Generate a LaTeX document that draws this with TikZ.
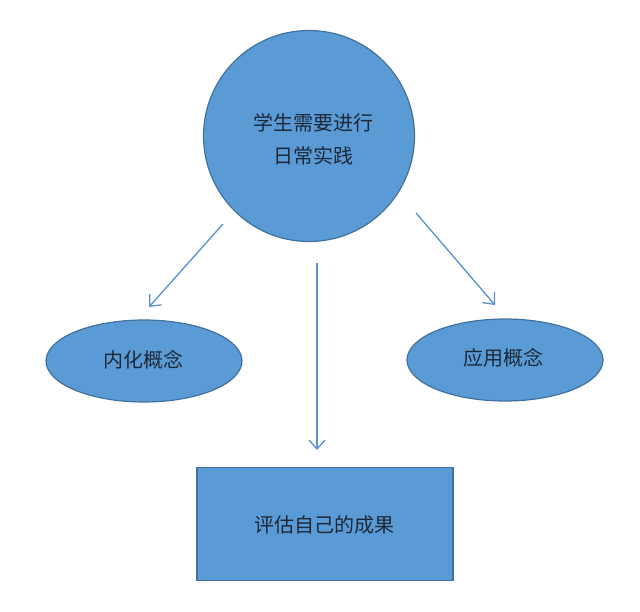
\documentclass[tikz,border=0pt]{standalone}
\usepackage{fontspec}
\setmainfont{Noto Sans CJK SC}
\usetikzlibrary{shapes.geometric,arrows.meta}
\definecolor{nodefill}{HTML}{5B9BD5}
\definecolor{nodeborder}{HTML}{41719C}
\definecolor{arrowcol}{HTML}{5A8FD0}
\definecolor{txt}{HTML}{1C2838}
\tikzset{
  shapebase/.style={fill=nodefill,draw=nodeborder,line width=1.2pt,inner sep=0pt},
  circnode/.style={shapebase,circle,minimum size=211pt},
  ellnode/.style={shapebase,ellipse,minimum width=196pt,minimum height=82pt},
  boxnode/.style={shapebase,rectangle,minimum width=256pt,minimum height=113pt},
  lbl/.style={text=txt,font=\fontsize{20}{33}\selectfont,align=center,inner sep=0pt},
  conn/.style={draw=arrowcol,line width=1.3pt,-{Straight Barb[length=9pt,width=16pt,line width=1.3pt]}}
}
\begin{document}
\begin{tikzpicture}[x=1pt,y=-1pt]
\useasboundingbox (0,0) rectangle (640,611);
\node[circnode] (top) at (309,136) {};
\node[lbl] (toptext) at (313,139) {学生需要进行\\日常实践};
\node[ellnode] (left) at (144,361) {};
\node[lbl] (lefttext) at (143,360) {内化概念};
\node[ellnode] (right) at (505,360) {};
\node[lbl] (righttext) at (503,358) {应用概念};
\node[boxnode] (box) at (325,524) {};
\node[lbl] (boxtext) at (324,525) {评估自己的成果};
\coordinate (l1) at (223,224);
\coordinate (l2) at (149,307);
\coordinate (m1) at (317,263);
\coordinate (m2) at (317,450);
\coordinate (r1) at (416,213);
\coordinate (r2) at (495,305);
\draw[conn] (l1) -- (l2);
\draw[conn] (m1) -- (m2);
\draw[conn] (r1) -- (r2);
\end{tikzpicture}
\end{document}
